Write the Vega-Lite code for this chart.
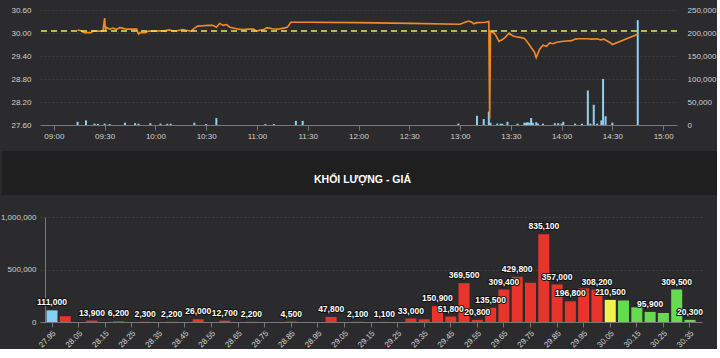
{
  "$schema": "https://vega.github.io/schema/vega-lite/v6.json",
  "background": "#2b2b2d",
  "padding": {"left": 0, "top": 6, "right": 0, "bottom": 0},
  "config": {
    "view": {"stroke": null},
    "axis": {
      "labelColor": "#d0d0d0",
      "labelFont": "Liberation Sans",
      "labelFontSize": 8,
      "domainColor": "#777777",
      "tickColor": "#777777",
      "gridColor": "#404042",
      "gridDash": [2, 2]
    }
  },
  "datasets": {
    "pricedata": [
      {"time": "2024-01-02T09:14:00", "price": 30.08},
      {"time": "2024-01-02T09:16:00", "price": 30.06},
      {"time": "2024-01-02T09:18:00", "price": 30.01},
      {"time": "2024-01-02T09:22:00", "price": 30.01},
      {"time": "2024-01-02T09:23:00", "price": 30.05},
      {"time": "2024-01-02T09:29:00", "price": 30.05},
      {"time": "2024-01-02T09:30:00", "price": 30.39},
      {"time": "2024-01-02T09:30:30", "price": 30.05},
      {"time": "2024-01-02T09:31:00", "price": 30.15},
      {"time": "2024-01-02T09:33:00", "price": 30.1},
      {"time": "2024-01-02T09:35:00", "price": 30.13},
      {"time": "2024-01-02T09:37:00", "price": 30.09},
      {"time": "2024-01-02T09:39:00", "price": 30.14},
      {"time": "2024-01-02T09:41:00", "price": 30.12},
      {"time": "2024-01-02T09:43:00", "price": 30.1},
      {"time": "2024-01-02T09:48:00", "price": 30.1},
      {"time": "2024-01-02T09:49:00", "price": 30.1},
      {"time": "2024-01-02T09:50:00", "price": 29.97},
      {"time": "2024-01-02T09:51:00", "price": 30.01},
      {"time": "2024-01-02T09:54:00", "price": 30.01},
      {"time": "2024-01-02T09:56:00", "price": 30.05},
      {"time": "2024-01-02T10:00:00", "price": 30.05},
      {"time": "2024-01-02T10:03:00", "price": 30.06},
      {"time": "2024-01-02T10:05:00", "price": 30.05},
      {"time": "2024-01-02T10:08:00", "price": 30.08},
      {"time": "2024-01-02T10:10:00", "price": 30.06},
      {"time": "2024-01-02T10:13:00", "price": 30.06},
      {"time": "2024-01-02T10:16:00", "price": 30.09},
      {"time": "2024-01-02T10:18:00", "price": 30.07},
      {"time": "2024-01-02T10:21:00", "price": 30.05},
      {"time": "2024-01-02T10:23:00", "price": 30.12},
      {"time": "2024-01-02T10:25:00", "price": 30.18},
      {"time": "2024-01-02T10:28:00", "price": 30.19},
      {"time": "2024-01-02T10:31:00", "price": 30.2},
      {"time": "2024-01-02T10:34:00", "price": 30.2},
      {"time": "2024-01-02T10:36:00", "price": 30.15},
      {"time": "2024-01-02T10:38:00", "price": 30.25},
      {"time": "2024-01-02T10:40:00", "price": 30.2},
      {"time": "2024-01-02T10:42:00", "price": 30.22},
      {"time": "2024-01-02T10:44:00", "price": 30.15},
      {"time": "2024-01-02T10:46:00", "price": 30.13},
      {"time": "2024-01-02T10:49:00", "price": 30.1},
      {"time": "2024-01-02T10:52:00", "price": 30.09},
      {"time": "2024-01-02T10:55:00", "price": 30.1},
      {"time": "2024-01-02T10:58:00", "price": 30.1},
      {"time": "2024-01-02T11:00:00", "price": 30.05},
      {"time": "2024-01-02T11:02:00", "price": 30.08},
      {"time": "2024-01-02T11:04:00", "price": 30.09},
      {"time": "2024-01-02T11:06:00", "price": 30.14},
      {"time": "2024-01-02T11:09:00", "price": 30.11},
      {"time": "2024-01-02T11:12:00", "price": 30.1},
      {"time": "2024-01-02T11:15:00", "price": 30.12},
      {"time": "2024-01-02T11:18:00", "price": 30.15},
      {"time": "2024-01-02T11:20:00", "price": 30.28},
      {"time": "2024-01-02T11:30:00", "price": 30.28},
      {"time": "2024-01-02T12:00:00", "price": 30.27},
      {"time": "2024-01-02T12:30:00", "price": 30.25},
      {"time": "2024-01-02T13:00:00", "price": 30.23},
      {"time": "2024-01-02T13:03:00", "price": 30.28},
      {"time": "2024-01-02T13:05:00", "price": 30.31},
      {"time": "2024-01-02T13:07:00", "price": 30.28},
      {"time": "2024-01-02T13:08:00", "price": 30.24},
      {"time": "2024-01-02T13:10:00", "price": 30.27},
      {"time": "2024-01-02T13:15:00", "price": 30.28},
      {"time": "2024-01-02T13:17:00", "price": 30.3},
      {"time": "2024-01-02T13:17:30", "price": 27.75},
      {"time": "2024-01-02T13:18:00", "price": 30.05},
      {"time": "2024-01-02T13:20:00", "price": 30.0},
      {"time": "2024-01-02T13:21:00", "price": 29.95},
      {"time": "2024-01-02T13:23:00", "price": 29.78},
      {"time": "2024-01-02T13:25:00", "price": 29.83},
      {"time": "2024-01-02T13:27:00", "price": 29.9},
      {"time": "2024-01-02T13:29:00", "price": 30.0},
      {"time": "2024-01-02T13:31:00", "price": 29.93},
      {"time": "2024-01-02T13:33:00", "price": 29.9},
      {"time": "2024-01-02T13:36:00", "price": 29.88},
      {"time": "2024-01-02T13:38:00", "price": 29.86},
      {"time": "2024-01-02T13:40:00", "price": 29.75},
      {"time": "2024-01-02T13:42:00", "price": 29.62},
      {"time": "2024-01-02T13:44:00", "price": 29.5},
      {"time": "2024-01-02T13:45:00", "price": 29.36},
      {"time": "2024-01-02T13:47:00", "price": 29.58},
      {"time": "2024-01-02T13:49:00", "price": 29.68},
      {"time": "2024-01-02T13:51:00", "price": 29.65},
      {"time": "2024-01-02T13:53:00", "price": 29.74},
      {"time": "2024-01-02T13:55:00", "price": 29.72},
      {"time": "2024-01-02T13:57:00", "price": 29.76},
      {"time": "2024-01-02T14:00:00", "price": 29.78},
      {"time": "2024-01-02T14:03:00", "price": 29.79},
      {"time": "2024-01-02T14:06:00", "price": 29.8},
      {"time": "2024-01-02T14:08:00", "price": 29.84},
      {"time": "2024-01-02T14:10:00", "price": 29.85},
      {"time": "2024-01-02T14:15:00", "price": 29.85},
      {"time": "2024-01-02T14:18:00", "price": 29.84},
      {"time": "2024-01-02T14:21:00", "price": 29.85},
      {"time": "2024-01-02T14:23:00", "price": 29.82},
      {"time": "2024-01-02T14:25:00", "price": 29.84},
      {"time": "2024-01-02T14:27:00", "price": 29.79},
      {"time": "2024-01-02T14:29:00", "price": 29.74},
      {"time": "2024-01-02T14:30:00", "price": 29.7},
      {"time": "2024-01-02T14:45:00", "price": 29.97}
    ],
    "voldata": [
      {"time": "2024-01-02T09:14:00", "vol": 7000},
      {"time": "2024-01-02T09:19:00", "vol": 10000},
      {"time": "2024-01-02T09:24:00", "vol": 3000},
      {"time": "2024-01-02T09:26:00", "vol": 2500},
      {"time": "2024-01-02T09:30:00", "vol": 3000},
      {"time": "2024-01-02T09:33:00", "vol": 2000},
      {"time": "2024-01-02T09:42:00", "vol": 5000},
      {"time": "2024-01-02T09:48:00", "vol": 4000},
      {"time": "2024-01-02T09:50:00", "vol": 3000},
      {"time": "2024-01-02T09:57:00", "vol": 4000},
      {"time": "2024-01-02T10:03:00", "vol": 3000},
      {"time": "2024-01-02T10:07:00", "vol": 2500},
      {"time": "2024-01-02T10:09:00", "vol": 3000},
      {"time": "2024-01-02T10:23:00", "vol": 5000},
      {"time": "2024-01-02T10:30:00", "vol": 2000},
      {"time": "2024-01-02T10:36:00", "vol": 15000},
      {"time": "2024-01-02T11:05:00", "vol": 2000},
      {"time": "2024-01-02T11:10:00", "vol": 2000},
      {"time": "2024-01-02T11:23:00", "vol": 9000},
      {"time": "2024-01-02T11:27:00", "vol": 9000},
      {"time": "2024-01-02T12:59:00", "vol": 3000},
      {"time": "2024-01-02T13:10:00", "vol": 20000},
      {"time": "2024-01-02T13:14:00", "vol": 13000},
      {"time": "2024-01-02T13:17:00", "vol": 29000},
      {"time": "2024-01-02T13:18:00", "vol": 5000},
      {"time": "2024-01-02T13:22:00", "vol": 3000},
      {"time": "2024-01-02T13:24:00", "vol": 3000},
      {"time": "2024-01-02T13:25:00", "vol": 2500},
      {"time": "2024-01-02T13:28:00", "vol": 7000},
      {"time": "2024-01-02T13:34:00", "vol": 3000},
      {"time": "2024-01-02T13:38:00", "vol": 5000},
      {"time": "2024-01-02T13:39:00", "vol": 5000},
      {"time": "2024-01-02T13:40:00", "vol": 6000},
      {"time": "2024-01-02T13:41:00", "vol": 5000},
      {"time": "2024-01-02T13:42:00", "vol": 15000},
      {"time": "2024-01-02T13:43:00", "vol": 5000},
      {"time": "2024-01-02T13:45:00", "vol": 6000},
      {"time": "2024-01-02T13:46:00", "vol": 3000},
      {"time": "2024-01-02T13:49:00", "vol": 3000},
      {"time": "2024-01-02T13:56:00", "vol": 4000},
      {"time": "2024-01-02T13:58:00", "vol": 4000},
      {"time": "2024-01-02T14:00:00", "vol": 3000},
      {"time": "2024-01-02T14:01:00", "vol": 7000},
      {"time": "2024-01-02T14:08:00", "vol": 3000},
      {"time": "2024-01-02T14:12:00", "vol": 3000},
      {"time": "2024-01-02T14:15:30", "vol": 75000},
      {"time": "2024-01-02T14:17:00", "vol": 3000},
      {"time": "2024-01-02T14:19:00", "vol": 44000},
      {"time": "2024-01-02T14:21:00", "vol": 3000},
      {"time": "2024-01-02T14:23:30", "vol": 10000},
      {"time": "2024-01-02T14:24:30", "vol": 100000},
      {"time": "2024-01-02T14:26:00", "vol": 19000},
      {"time": "2024-01-02T14:30:00", "vol": 5000},
      {"time": "2024-01-02T14:45:00", "vol": 228000}
    ],
    "refdata": [{"refprice": 30.05}],
    "banddata": [{"label": "KHỐI LƯỢNG - GIÁ"}],
    "dist": [
      {"level": "27.95", "amount": 111000, "kind": "floor", "lbl": true},
      {"level": "28.00", "amount": 55000, "kind": "down", "lbl": false},
      {"level": "28.05", "amount": 0, "kind": "down", "lbl": false},
      {"level": "28.10", "amount": 13900, "kind": "down", "lbl": true},
      {"level": "28.15", "amount": 0, "kind": "down", "lbl": false},
      {"level": "28.20", "amount": 6200, "kind": "down", "lbl": true},
      {"level": "28.25", "amount": 0, "kind": "down", "lbl": false},
      {"level": "28.30", "amount": 2300, "kind": "down", "lbl": true},
      {"level": "28.35", "amount": 0, "kind": "down", "lbl": false},
      {"level": "28.40", "amount": 2200, "kind": "down", "lbl": true},
      {"level": "28.45", "amount": 0, "kind": "down", "lbl": false},
      {"level": "28.50", "amount": 26000, "kind": "down", "lbl": true},
      {"level": "28.55", "amount": 0, "kind": "down", "lbl": false},
      {"level": "28.60", "amount": 12700, "kind": "down", "lbl": true},
      {"level": "28.65", "amount": 0, "kind": "down", "lbl": false},
      {"level": "28.70", "amount": 2200, "kind": "down", "lbl": true},
      {"level": "28.75", "amount": 0, "kind": "down", "lbl": false},
      {"level": "28.80", "amount": 0, "kind": "down", "lbl": false},
      {"level": "28.85", "amount": 4500, "kind": "down", "lbl": true},
      {"level": "28.90", "amount": 0, "kind": "down", "lbl": false},
      {"level": "28.95", "amount": 0, "kind": "down", "lbl": false},
      {"level": "29.00", "amount": 47800, "kind": "down", "lbl": true},
      {"level": "29.05", "amount": 0, "kind": "down", "lbl": false},
      {"level": "29.10", "amount": 2100, "kind": "down", "lbl": true},
      {"level": "29.15", "amount": 0, "kind": "down", "lbl": false},
      {"level": "29.20", "amount": 1100, "kind": "down", "lbl": true},
      {"level": "29.25", "amount": 0, "kind": "down", "lbl": false},
      {"level": "29.30", "amount": 33000, "kind": "down", "lbl": true},
      {"level": "29.35", "amount": 26000, "kind": "down", "lbl": false},
      {"level": "29.40", "amount": 150900, "kind": "down", "lbl": true},
      {"level": "29.45", "amount": 51800, "kind": "down", "lbl": true},
      {"level": "29.50", "amount": 369500, "kind": "down", "lbl": true},
      {"level": "29.55", "amount": 20800, "kind": "down", "lbl": true},
      {"level": "29.60", "amount": 135500, "kind": "down", "lbl": true},
      {"level": "29.65", "amount": 309400, "kind": "down", "lbl": true},
      {"level": "29.70", "amount": 429800, "kind": "down", "lbl": true},
      {"level": "29.75", "amount": 374000, "kind": "down", "lbl": false},
      {"level": "29.80", "amount": 835100, "kind": "down", "lbl": true},
      {"level": "29.85", "amount": 357000, "kind": "down", "lbl": true},
      {"level": "29.90", "amount": 196800, "kind": "down", "lbl": true},
      {"level": "29.95", "amount": 320000, "kind": "down", "lbl": false},
      {"level": "30.00", "amount": 308200, "kind": "down", "lbl": true},
      {"level": "30.05", "amount": 210500, "kind": "ref", "lbl": true},
      {"level": "30.10", "amount": 205000, "kind": "up", "lbl": false},
      {"level": "30.15", "amount": 140000, "kind": "up", "lbl": false},
      {"level": "30.20", "amount": 95900, "kind": "up", "lbl": true},
      {"level": "30.25", "amount": 86000, "kind": "up", "lbl": false},
      {"level": "30.30", "amount": 309500, "kind": "up", "lbl": true},
      {"level": "30.35", "amount": 20300, "kind": "up", "lbl": true}
    ]
  },
  "concat": [
    {
      "width": 637,
      "height": 115,
      "layer": [
        {
          "data": {"name": "voldata"},
          "mark": {"type": "bar", "size": 2, "color": "#8fd1f2"},
          "encoding": {
            "x": {
              "field": "time", "type": "temporal", "title": null,
              "scale": {"domain": ["2024-01-02T08:54:46", "2024-01-02T15:05:14"]},
              "axis": {
                "format": "%H:%M",
                "values": ["2024-01-02T09:00:00", "2024-01-02T09:30:00", "2024-01-02T10:00:00", "2024-01-02T10:30:00", "2024-01-02T11:00:00", "2024-01-02T11:30:00", "2024-01-02T12:00:00", "2024-01-02T12:30:00", "2024-01-02T13:00:00", "2024-01-02T13:30:00", "2024-01-02T14:00:00", "2024-01-02T14:30:00", "2024-01-02T15:00:00"],
                "grid": false, "tickSize": 5, "labelPadding": 2, "labelFlush": false
              }
            },
            "y": {
              "field": "vol", "type": "quantitative", "title": null,
              "scale": {"domain": [0, 250000], "nice": false},
              "axis": {
                "orient": "right", "values": [0, 50000, 100000, 150000, 200000, 250000],
                "format": ",d", "grid": false, "domain": false, "ticks": false, "labelPadding": 10
              }
            }
          }
        },
        {
          "data": {"name": "pricedata"},
          "mark": {"type": "line", "color": "#f28a26", "strokeWidth": 1.6},
          "encoding": {
            "x": {"field": "time", "type": "temporal"},
            "y": {
              "field": "price", "type": "quantitative", "title": null,
              "scale": {"domain": [27.6, 30.6], "nice": false, "zero": false},
              "axis": {
                "orient": "left", "values": [27.6, 28.2, 28.8, 29.4, 30.0, 30.6],
                "format": ".2f", "grid": true, "domain": false, "ticks": false,
                "labelPadding": 9, "minExtent": 40, "maxExtent": 40
              }
            }
          }
        },
        {
          "data": {"name": "refdata"},
          "mark": {"type": "rule", "color": "#e8e85a", "strokeWidth": 1.5, "strokeDash": [6, 4]},
          "encoding": {
            "y": {
              "field": "refprice", "type": "quantitative",
              "scale": {"domain": [27.6, 30.6], "nice": false, "zero": false},
              "axis": null
            }
          }
        }
      ],
      "resolve": {"scale": {"y": "independent"}}
    },
    {
      "width": 677,
      "height": 44,
      "data": {"name": "banddata"},
      "layer": [
        {
          "mark": {"type": "rect", "color": "#1f1f1f"},
          "encoding": {
            "x": {
              "datum": -0.0562, "type": "quantitative",
              "scale": {"domain": [0, 1], "nice": false, "zero": false},
              "axis": {"labels": false, "ticks": false, "domain": false, "grid": false, "title": null, "minExtent": 7, "maxExtent": 7}
            },
            "x2": {"datum": 1}
          }
        },
        {
          "mark": {"type": "text", "color": "#ffffff", "fontWeight": "bold", "fontSize": 10.5, "font": "Liberation Sans", "baseline": "middle", "dy": 7, "dx": -16},
          "encoding": {"text": {"field": "label"}}
        }
      ]
    },
    {
      "width": 662,
      "height": 105,
      "data": {"name": "dist"},
      "encoding": {
        "x": {
          "field": "level", "type": "nominal", "sort": null, "title": null,
          "scale": {"paddingInner": 0.17, "paddingOuter": 0.488},
          "axis": {
            "values": ["27.95","28.05","28.15","28.25","28.35","28.45","28.55","28.65","28.75","28.85","28.95","29.05","29.15","29.25","29.35","29.45","29.55","29.65","29.75","29.85","29.95","30.05","30.15","30.25","30.35"],
            "labelAngle": -45, "tickSize": 5, "labelPadding": 2, "grid": false
          }
        },
        "y": {
          "field": "amount", "type": "quantitative", "title": null,
          "scale": {"domain": [0, 1000000], "nice": false},
          "axis": {
            "values": [0, 500000, 1000000], "format": ",d", "grid": true,
            "ticks": false, "labelPadding": 9, "offset": -5, "maxExtent": 38
          }
        }
      },
      "layer": [
        {
          "mark": {"type": "bar"},
          "encoding": {
            "color": {
              "field": "kind", "type": "nominal", "legend": null,
              "scale": {"domain": ["floor", "down", "ref", "up"], "range": ["#86cdf3", "#e8342a", "#f2f24c", "#66db50"]}
            }
          }
        },
        {
          "transform": [{"filter": "datum.lbl"}],
          "mark": {"type": "text", "fill": "#ffffff", "stroke": "#111111", "strokeWidth": 2, "font": "Liberation Sans", "fontSize": 8.5, "fontWeight": "bold", "baseline": "bottom", "dy": -3},
          "encoding": {"text": {"field": "amount", "type": "quantitative", "format": ",d"}}
        },
        {
          "transform": [{"filter": "datum.lbl"}],
          "mark": {"type": "text", "fill": "#ffffff", "font": "Liberation Sans", "fontSize": 8.5, "fontWeight": "bold", "baseline": "bottom", "dy": -3},
          "encoding": {"text": {"field": "amount", "type": "quantitative", "format": ",d"}}
        }
      ]
    }
  ],
  "columns": 1,
  "align": "none",
  "spacing": 11
}
